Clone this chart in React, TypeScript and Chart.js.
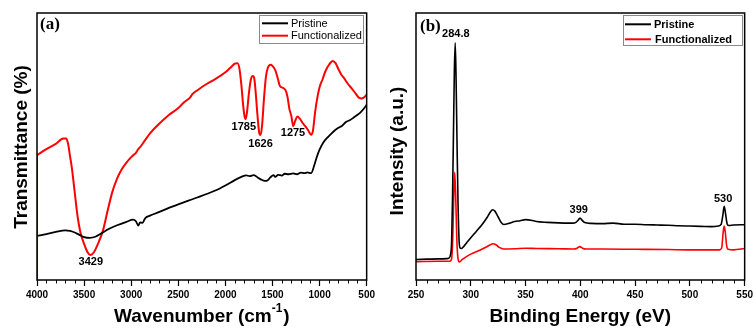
import React, { useEffect, useRef } from 'react';
import { Chart, registerables } from 'chart.js';

Chart.register(...registerables);

const SANS = '"Liberation Sans", Arial, sans-serif';
const SERIF = '"Liberation Serif", "Times New Roman", serif';
const RED = '#ff0000';
const BLACK = '#000000';

// ---------- Panel (a): FTIR ----------
const ftirPristineWn = [4000, 3900, 3800, 3700, 3650, 3600, 3550, 3500, 3440, 3380, 3320, 3250, 3150, 3050, 2980, 2950, 2925, 2905, 2880, 2855, 2840, 2800, 2700, 2600, 2500, 2400, 2300, 2200, 2100, 2000, 1900, 1830, 1780, 1740, 1700, 1660, 1620, 1580, 1550, 1520, 1490, 1470, 1440, 1400, 1370, 1330, 1280, 1240, 1200, 1160, 1130, 1090, 1060, 1030, 1000, 960, 920, 880, 840, 800, 760, 720, 680, 640, 600, 560, 520, 500];
const ftirPristineT = [16.5, 17.2, 18.0, 18.6, 18.4, 17.8, 16.9, 16.1, 15.8, 16.2, 17.4, 18.9, 20.5, 21.8, 22.6, 22.0, 20.4, 21.6, 21.4, 22.9, 23.5, 24.1, 25.5, 27.0, 28.3, 29.6, 30.9, 32.2, 33.6, 35.4, 37.4, 38.6, 39.2, 38.9, 39.3, 38.5, 37.6, 37.1, 37.4, 38.5, 39.3, 38.6, 39.4, 39.1, 39.8, 39.6, 39.9, 39.6, 40.2, 40.0, 40.3, 40.0, 42.5, 46.0, 48.8, 51.5, 53.2, 54.6, 56.0, 57.0, 57.8, 59.2, 59.8, 60.8, 61.8, 63.0, 64.6, 65.6];

const ftirFuncWn = [4000, 3900, 3800, 3720, 3690, 3670, 3650, 3630, 3600, 3570, 3540, 3500, 3460, 3430, 3400, 3360, 3300, 3250, 3200, 3150, 3100, 3050, 3000, 2970, 2950, 2930, 2900, 2850, 2800, 2700, 2600, 2500, 2450, 2400, 2380, 2350, 2300, 2200, 2100, 2000, 1950, 1900, 1870, 1850, 1830, 1810, 1795, 1785, 1770, 1750, 1730, 1710, 1695, 1680, 1660, 1640, 1626, 1610, 1590, 1570, 1550, 1520, 1500, 1470, 1440, 1420, 1390, 1360, 1340, 1320, 1300, 1280, 1260, 1236, 1210, 1180, 1150, 1120, 1090, 1070, 1050, 1030, 1000, 970, 940, 900, 860, 830, 800, 770, 740, 700, 660, 620, 580, 550, 520, 500];
const ftirFuncT = [46.8, 49.0, 51.0, 53.0, 53.0, 51.0, 46.5, 42.0, 33.0, 24.0, 18.0, 13.5, 10.2, 9.4, 10.2, 13.0, 18.5, 26.0, 33.0, 38.0, 41.5, 44.0, 46.0, 47.0, 47.6, 48.8, 50.0, 52.5, 54.9, 58.6, 61.8, 64.4, 66.2, 67.6, 68.1, 69.6, 71.0, 73.4, 75.4, 77.8, 79.4, 81.0, 81.2, 79.0, 73.0, 65.0, 61.0, 60.2, 63.0, 70.0, 75.0, 76.4, 75.8, 71.0, 62.0, 55.0, 54.3, 58.0, 68.0, 76.0, 79.4, 80.6, 80.2, 78.6, 75.0, 72.6, 72.0, 71.0, 68.5, 64.0, 61.5, 57.6, 59.5, 61.2, 60.4, 58.8, 57.5, 56.0, 54.4, 56.0, 62.0, 67.0, 72.2, 75.0, 78.0, 80.6, 82.0, 81.2, 79.0, 77.0, 75.6, 73.5, 71.8, 70.0, 68.2, 68.0, 68.6, 69.4];
// vertical red segment at the left edge (spectrum start)
const ftirFuncEdgeWn = [4000, 4000];
const ftirFuncEdgeT = [0, 46.8];

const ftirLabels = ['3429', '1785', '1626', '1275'];
const ftirLabelX = [3429, 1804, 1627, 1282];
const ftirLabelY = [6.9, 57.4, 50.9, 54.9];

// ---------- Panel (b): XPS ----------
const xpsPristineBE = [250, 260, 270, 278, 280, 281.5, 282.5, 283.3, 284.2, 285, 285.8, 286.6, 287.5, 288.4, 289.3, 290.3, 291.5, 293, 296, 300, 305, 310, 315, 318, 320, 322, 325, 328, 330, 335, 340, 345, 350, 355, 360, 370, 380, 390, 393, 396, 398, 399.7, 401.5, 404, 410, 420, 430, 440, 450, 460, 470, 480, 490, 500, 510, 520, 526, 528.5, 530, 531.3, 532.5, 534, 535.5, 540, 550];
const xpsPristineI = [7.7, 7.8, 7.9, 8.0, 8.2, 9.5, 14, 30, 55, 78, 88.8, 75, 50, 28, 15, 12, 11.8, 12.3, 13.8, 15.8, 18.2, 20.6, 23.5, 25.6, 26.3, 25.8, 23.6, 21.4, 20.8, 21.2, 21.9, 22.2, 22.6, 22.4, 21.9, 21.6, 21.4, 21.3, 21.3, 21.6, 22.4, 23.2, 22.4, 21.5, 21.2, 21.1, 21.3, 20.9, 20.9, 20.7, 20.6, 20.5, 20.3, 20.2, 20.1, 20.0, 20.2, 20.8, 24, 27.6, 25, 21, 20.4, 20.6, 20.7];

const xpsFuncBE = [250, 270, 281, 282.5, 283.5, 284.4, 285.3, 286.2, 287.2, 288.2, 289.5, 290.5, 292, 295, 300, 310, 318, 320, 323, 326, 330, 340, 350, 360, 380, 394, 397, 399.5, 402, 405, 420, 450, 480, 500, 527, 529, 530.3, 531.3, 532.3, 533.5, 535, 540, 550];
const xpsFuncI = [6.9, 7.0, 7.0, 8, 15, 30, 40.3, 32, 16, 8.5, 6.8, 7.0, 7.6, 8.5, 9.7, 11.5, 13.2, 13.6, 13.2, 12.2, 11.6, 11.7, 11.9, 11.8, 11.7, 11.6, 11.9, 12.5, 11.9, 11.6, 11.6, 11.5, 11.4, 11.3, 11.3, 12.0, 17.5, 20.2, 18, 13, 11.5, 11.3, 11.8];

const xpsLabels = ['284.8', '399', '530'];
const xpsLabelX = [286.4, 398.5, 530.3];
const xpsLabelY = [92.1, 26.2, 30.2];

const seriesNames = ['Pristine', 'Functionalized'];

const toPts = (xs: number[], ys: number[]) => xs.map((x, i) => ({ x, y: ys[i] }));

type PanelSpec = {
  min: number;
  max: number;
  reverse: boolean;
  majorStep: number;
  minorStep: number;
  yAxisWidth: number;
  rightPad: number;
  xTitle: string;
  xSup: string;
  xTail: string;
  yTitle: string;
  yTitleX: number;
  yTitleY: number;
  panelLabel: string;
  panelLabelX: number;
  panelLabelY: number;
  annText: string[];
  annX: number[];
  annY: number[];
  legend: { left: number; top: number; right: number; bottom: number; lineX0: number; lineX1: number; rows: number[]; textX: number[]; bold: boolean };
  datasets: any[];
};

function makePlugin(p: PanelSpec) {
  return {
    id: 'decor',
    afterDraw(chart: any) {
      const { ctx, chartArea: a, scales } = chart;
      const xs = scales.x;
      const ys = scales.y;
      ctx.save();
      // minor ticks
      ctx.strokeStyle = BLACK;
      ctx.lineWidth = 1;
      for (let v = p.min; v <= p.max + 1e-6; v += p.minorStep) {
        if (Math.abs(v % p.majorStep) < 1e-6) continue;
        const px = Math.round(xs.getPixelForValue(v)) + 0.5;
        ctx.beginPath();
        ctx.moveTo(px, a.bottom);
        ctx.lineTo(px, a.bottom + 3.5);
        ctx.stroke();
      }
      // frame
      ctx.lineWidth = 1.5;
      ctx.strokeRect(a.left, a.top, a.right - a.left, a.bottom - a.top);

      // x title
      ctx.fillStyle = BLACK;
      ctx.textBaseline = 'middle';
      ctx.textAlign = 'left';
      const mainFont = `bold 19px ${SANS}`;
      const supFont = `bold 12px ${SANS}`;
      ctx.font = mainFont;
      const wMain = ctx.measureText(p.xTitle).width;
      const wTail = ctx.measureText(p.xTail).width;
      ctx.font = supFont;
      const wSup = p.xSup ? ctx.measureText(p.xSup).width + 1 : 0;
      const total = wMain + wSup + wTail;
      const cx = (a.left + a.right) / 2;
      let tx = cx - total / 2;
      const ty = 317;
      ctx.font = mainFont;
      ctx.fillText(p.xTitle, tx, ty);
      tx += wMain;
      if (p.xSup) {
        ctx.font = supFont;
        ctx.fillText(p.xSup, tx, ty - 8);
        tx += wSup;
      }
      ctx.font = mainFont;
      ctx.fillText(p.xTail, tx, ty);

      // y title
      ctx.save();
      ctx.translate(p.yTitleX, p.yTitleY);
      ctx.rotate(-Math.PI / 2);
      ctx.textAlign = 'center';
      ctx.font = mainFont;
      ctx.fillText(p.yTitle, 0, 0);
      ctx.restore();

      // panel label
      ctx.textAlign = 'left';
      ctx.font = `bold 17px ${SERIF}`;
      ctx.fillText(p.panelLabel, p.panelLabelX, p.panelLabelY);

      // annotations
      ctx.textAlign = 'center';
      ctx.font = `bold 11px ${SANS}`;
      p.annText.forEach((t, i) => {
        ctx.fillText(t, xs.getPixelForValue(p.annX[i]), ys.getPixelForValue(p.annY[i]));
      });

      // legend
      const L = p.legend;
      ctx.fillStyle = '#ffffff';
      ctx.fillRect(L.left, L.top, L.right - L.left, L.bottom - L.top);
      ctx.strokeStyle = '#8a8a8a';
      ctx.lineWidth = 1;
      ctx.strokeRect(L.left + 0.5, L.top + 0.5, L.right - L.left, L.bottom - L.top);
      ctx.textAlign = 'left';
      ctx.font = `${L.bold ? 'bold ' : ''}11px ${SANS}`;
      const cols = [BLACK, RED];
      seriesNames.forEach((n, i) => {
        ctx.strokeStyle = cols[i];
        ctx.lineWidth = 2;
        ctx.beginPath();
        ctx.moveTo(L.lineX0, L.rows[i]);
        ctx.lineTo(L.lineX1, L.rows[i]);
        ctx.stroke();
        ctx.fillStyle = BLACK;
        ctx.fillText(n, L.textX[i], L.rows[i] + 0.5);
      });
      ctx.restore();
    },
  };
}

function buildChart(canvas: HTMLCanvasElement, p: PanelSpec) {
  return new Chart(canvas, {
    type: 'line',
    data: { datasets: p.datasets },
    options: {
      animation: false,
      responsive: false,
      devicePixelRatio: 1,
      maintainAspectRatio: false,
      layout: { padding: { top: 13, right: p.rightPad, left: 0, bottom: 0 } },
      plugins: { legend: { display: false }, tooltip: { enabled: false }, title: { display: false } },
      elements: { point: { radius: 0 } },
      scales: {
        x: {
          type: 'linear',
          min: p.min,
          max: p.max,
          reverse: p.reverse,
          afterFit: (s: any) => {
            s.height = 53;
          },
          ticks: {
            stepSize: p.majorStep,
            autoSkip: false,
            maxRotation: 0,
            padding: 3,
            color: BLACK,
            font: { family: SANS, size: 10, weight: 'bold' },
            callback: (v: any) => String(v),
          },
          grid: {
            display: true,
            drawOnChartArea: false,
            drawTicks: true,
            tickLength: 6,
            tickColor: BLACK,
            tickWidth: 1.2,
          },
          border: { display: false },
        },
        y: {
          type: 'linear',
          min: 0,
          max: 100,
          afterFit: (s: any) => {
            s.width = p.yAxisWidth;
          },
          ticks: { display: false },
          grid: { display: false },
          border: { display: false },
        },
      },
    },
    plugins: [makePlugin(p)],
  } as any);
}

const panelA: PanelSpec = {
  min: 500,
  max: 4000,
  reverse: true,
  majorStep: 500,
  minorStep: 100,
  yAxisWidth: 37,
  rightPad: 11,
  xTitle: 'Wavenumber (cm',
  xSup: '-1',
  xTail: ')',
  yTitle: 'Transmittance (%)',
  yTitleX: 22,
  yTitleY: 147,
  panelLabel: '(a)',
  panelLabelX: 40,
  panelLabelY: 25,
  annText: ftirLabels,
  annX: ftirLabelX,
  annY: ftirLabelY,
  legend: { left: 259, top: 15, right: 363, bottom: 43, lineX0: 262, lineX1: 288, rows: [23.3, 35.7], textX: [291, 291], bold: false },
  datasets: [
    { data: toPts(ftirPristineWn, ftirPristineT), borderColor: BLACK, borderWidth: 1.8, cubicInterpolationMode: 'monotone', pointRadius: 0 },
    { data: toPts(ftirFuncWn, ftirFuncT), borderColor: RED, borderWidth: 2, cubicInterpolationMode: 'monotone', pointRadius: 0 },
    { data: toPts(ftirFuncEdgeWn, ftirFuncEdgeT), borderColor: RED, borderWidth: 2, tension: 0, pointRadius: 0 },
  ],
};

const panelB: PanelSpec = {
  min: 250,
  max: 550,
  reverse: false,
  majorStep: 50,
  minorStep: 10,
  yAxisWidth: 38,
  rightPad: 10,
  xTitle: 'Binding Energy (eV)',
  xSup: '',
  xTail: '',
  yTitle: 'Intensity (a.u.)',
  yTitleX: 20,
  yTitleY: 151,
  panelLabel: '(b)',
  panelLabelX: 42,
  panelLabelY: 27,
  annText: xpsLabels,
  annX: xpsLabelX,
  annY: xpsLabelY,
  legend: { left: 245, top: 15, right: 364, bottom: 45, lineX0: 247, lineX1: 273, rows: [24.3, 39.3], textX: [276, 277], bold: true },
  datasets: [
    { data: toPts(xpsPristineBE, xpsPristineI), borderColor: BLACK, borderWidth: 1.6, cubicInterpolationMode: 'monotone', pointRadius: 0 },
    { data: toPts(xpsFuncBE, xpsFuncI), borderColor: RED, borderWidth: 1.6, cubicInterpolationMode: 'monotone', pointRadius: 0 },
  ],
};

function Panel({ spec, left }: { spec: PanelSpec; left: number }) {
  const ref = useRef<HTMLCanvasElement | null>(null);
  useEffect(() => {
    if (!ref.current) return;
    const c = buildChart(ref.current, spec);
    return () => c.destroy();
  }, [spec]);
  return (
    <div style={{ position: 'absolute', left, top: 0, width: 378, height: 333 }}>
      <canvas ref={ref} width={378} height={333} style={{ width: 378, height: 333, display: 'block' }} />
    </div>
  );
}

export default function App() {
  return (
    <div style={{ position: 'fixed', left: 0, top: 0, width: 756, height: 333, background: '#ffffff', overflow: 'hidden' }}>
      <Panel spec={panelA} left={0} />
      <Panel spec={panelB} left={378} />
    </div>
  );
}
